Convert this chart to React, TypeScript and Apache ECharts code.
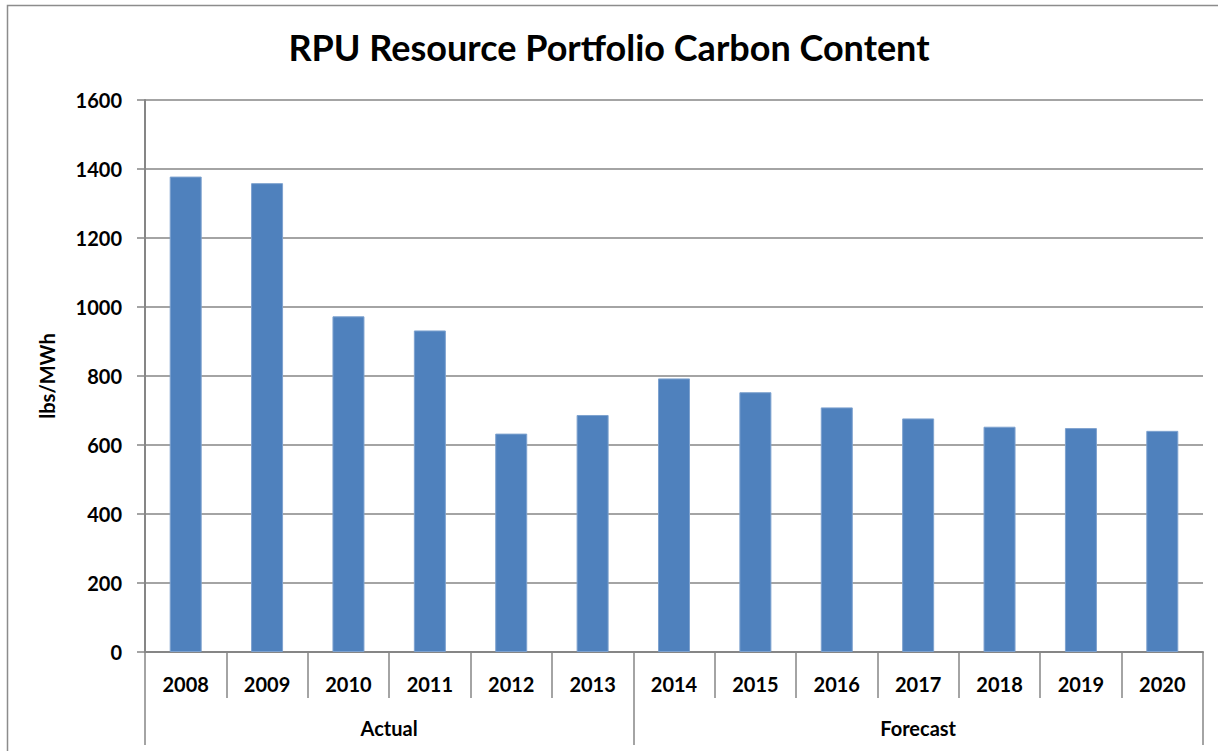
import React, { useEffect, useRef } from "react";
import * as echarts from "echarts";

const years = ["2008", "2009", "2010", "2011", "2012", "2013", "2014", "2015", "2016", "2017", "2018", "2019", "2020"];
const carbon = [1378, 1359, 973, 932, 633, 687, 793, 753, 709, 677, 653, 649, 641];
const groups = ["Actual", "Forecast"];
const groupBounds = [0, 6, 13];
const groupCenters = [3, 9.5];

const FONT = "Lato";

export default function App() {
  const ref = useRef<HTMLDivElement>(null);
  useEffect(() => {
    const chart = echarts.init(ref.current!, null, { renderer: "svg" });
    chart.setOption({
      animation: false,
      backgroundColor: "#fff",
      textStyle: { fontFamily: FONT },
      title: {
        text: "RPU Resource Portfolio Carbon Content",
        left: "center",
        top: 24,
        textStyle: { fontFamily: FONT, fontWeight: "bold", fontSize: 36, color: "#000" },
      },
      graphic: [
        {
          type: "rect",
          shape: { x: 7.5, y: 5.5, width: 1300, height: 900 },
          style: { fill: "none", stroke: "#8c8c8c", lineWidth: 1.5 },
          silent: true,
        },
      ],
      grid: { left: 145, right: 15, top: 100, bottom: 99 },
      xAxis: [
        {
          type: "category",
          data: years,
          axisLine: { show: true, lineStyle: { color: "#868686", width: 2 } },
          axisTick: { show: true, interval: 0, length: 46, alignWithLabel: false, lineStyle: { color: "#868686", width: 1.5 } },
          axisLabel: { interval: 0, margin: 22, color: "#000", fontFamily: FONT, fontWeight: "bold", fontSize: 20 },
        },
        {
          type: "value",
          position: "bottom",
          offset: 46,
          min: 0,
          max: 13,
          axisLine: { show: false },
          splitLine: { show: false },
          axisTick: {
            show: true,
            customValues: groupBounds,
            length: 47,
            lineStyle: { color: "#868686", width: 1.5 },
          },
          axisLabel: {
            customValues: groupCenters,
            margin: 20,
            color: "#000",
            fontFamily: FONT,
            fontWeight: "bold",
            fontSize: 20,
            formatter: (v: number) => (v === groupCenters[0] ? groups[0] : groups[1]),
          },
        },
      ],
      yAxis: {
        type: "value",
        min: 0,
        max: 1600,
        interval: 200,
        name: "lbs/MWh",
        nameLocation: "middle",
        nameGap: 88,
        nameRotate: 90,
        nameTextStyle: { fontFamily: FONT, fontWeight: "bold", fontSize: 20, color: "#000" },
        axisLine: { show: true, lineStyle: { color: "#868686", width: 2 } },
        axisTick: { show: true, length: 8, lineStyle: { color: "#868686", width: 1.5 } },
        splitLine: { show: true, lineStyle: { color: "#868686", width: 1.5 } },
        axisLabel: {
          margin: 23,
          color: "#000",
          fontFamily: FONT,
          fontWeight: "bold",
          fontSize: 20,
          formatter: (v: number) => String(v),
        },
      },
      series: [
        {
          type: "bar",
          xAxisIndex: 0,
          data: carbon,
          barWidth: 32,
          itemStyle: { color: "#4F81BD", borderColor: "#7ea2cf", borderWidth: 1 },
        },
      ],
    });
    return () => chart.dispose();
  }, []);
  return <div ref={ref} style={{ position: "fixed", left: 0, top: 0, width: 1218, height: 751 }} />;
}
